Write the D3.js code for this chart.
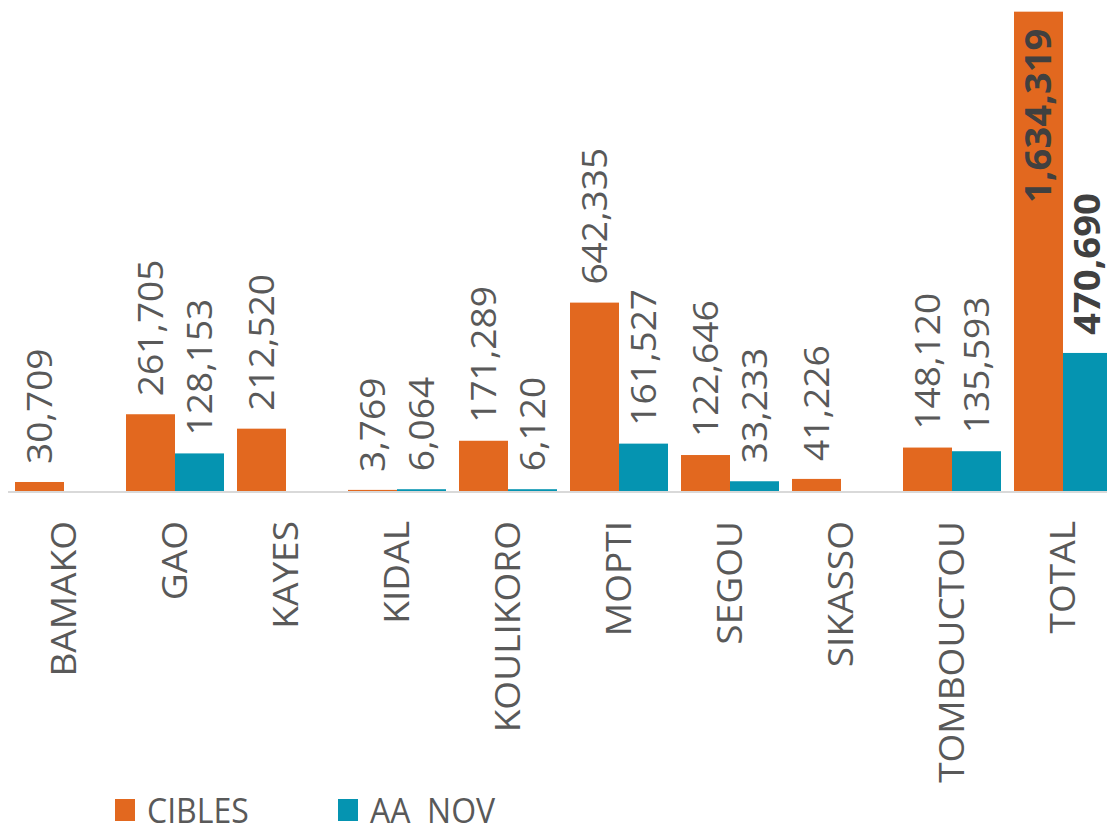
<!DOCTYPE html>
<html>
<head>
<meta charset="utf-8">
<script src="https://cdnjs.cloudflare.com/ajax/libs/d3/7.8.5/d3.min.js"></script>
<style>
  body { margin: 0; background: #fff; }
  svg { display: block; font-family: "Open Sans", sans-serif; }
</style>
</head>
<body>
<div id="chart"></div>
<script>
var regions = ['BAMAKO', 'GAO', 'KAYES', 'KIDAL', 'KOULIKORO', 'MOPTI', 'SEGOU', 'SIKASSO', 'TOMBOUCTOU', 'TOTAL']
var cibles = [30709, 261705, 212520, 3769, 171289, 642335, 122646, 41226, 148120, 1634319]
var aaNov  = [null, 128153, null, 6064, 6120, 161527, 33233, null, 135593, 470690]
var seriesNames = ['CIBLES', 'AA  NOV']
var colors = ['#e2681f', '#0594b1']

var width = 1107, height = 825
var base = 491
// the source picture is stretched a bit vertically, so text gets stretched too
var stretch = 1.09

var svg = d3.select('#chart').append('svg')
  .attr('width', width).attr('height', height)

var x0 = d3.scaleBand().domain(regions).range([8.5, 1118.5]).paddingInner(13 / 111).paddingOuter(13 / 222)
var x1 = d3.scaleBand().domain([0, 1]).range([0, x0.bandwidth()])
var y = d3.scaleLinear().domain([0, 1640000]).range([base, 10])

var rows = regions.map(function(r, i){
  return {region: r, vals: [cibles[i], aaNov[i]]}
})

var groups = svg.selectAll('g.grp').data(rows).enter().append('g')
  .attr('transform', function(d){ return 'translate(' + x0(d.region) + ',0)' })

var cells = groups.selectAll('g.cell')
  .data(function(d){
    return d.vals.map(function(v, j){ return {v: v, j: j, total: d.region == 'TOTAL'} })
      .filter(function(c){ return c.v != null })
  })
  .enter().append('g')

cells.append('rect')
  .attr('x', function(d){ return x1(d.j) })
  .attr('width', x1.bandwidth())
  .attr('y', function(d){ return y(d.v) })
  .attr('height', function(d){ return base - y(d.v) })
  .attr('fill', function(d){ return colors[d.j] })

// value labels, rotated; the big total goes inside its bar
cells.append('text')
  .attr('transform', function(d){
    var inside = d.total && d.j == 0
    var ty = inside ? y(d.v) + 17 : y(d.v) - 18
    return 'translate(' + (x1(d.j) + x1.bandwidth() / 2) + ',' + ty + ') rotate(-90) scale(' + stretch + ',1)'
  })
  .attr('dy', '0.36em')
  .attr('text-anchor', function(d){ return d.total && d.j == 0 ? 'end' : 'start' })
  .attr('font-size', function(d){ return d.total ? 35 : 34 })
  .attr('font-weight', function(d){ return d.total ? 700 : 400 })
  .attr('fill', function(d){ return d.total ? '#404040' : '#595959' })
  .text(function(d){ return d3.format(',')(d.v) })

// category axis
svg.append('line')
  .attr('x1', 8).attr('x2', width)
  .attr('y1', base + 1).attr('y2', base + 1)
  .attr('stroke', '#d9d9d9').attr('stroke-width', 2)

svg.selectAll('text.cat').data(regions).enter().append('text')
  .attr('class', 'cat')
  .attr('transform', function(d){
    return 'translate(' + (x0(d) + x0.bandwidth() / 2) + ',521) rotate(-90) scale(' + stretch + ',1)'
  })
  .attr('dy', '0.36em')
  .attr('text-anchor', 'end')
  .attr('font-size', 34)
  .attr('fill', '#595959')
  .text(function(d){ return d })

// legend
var leg = svg.selectAll('g.leg').data(seriesNames).enter().append('g')
  .attr('transform', function(d, i){ return 'translate(' + (115 + i * 223) + ',799)' })

leg.append('rect').attr('width', 20).attr('height', 22)
  .attr('fill', function(d, i){ return colors[i] })

leg.append('text')
  .attr('transform', 'translate(32,11) scale(1,' + stretch + ')')
  .attr('dy', '0.36em')
  .attr('font-size', 32)
  .attr('fill', '#595959')
  .style('white-space', 'pre')
  .text(function(d){ return d })
</script>
</body>
</html>
